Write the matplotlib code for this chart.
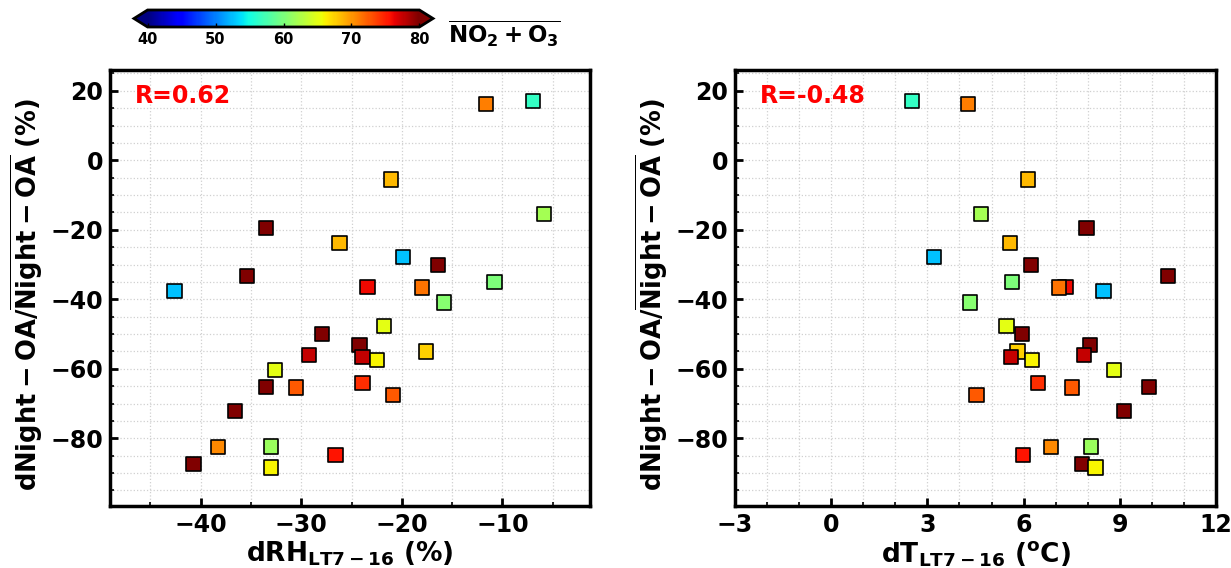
import numpy as np
import matplotlib
matplotlib.use('Agg')
import matplotlib.pyplot as plt
from matplotlib.ticker import MultipleLocator

plt.rcParams['font.family'] = 'DejaVu Sans'
plt.rcParams['font.weight'] = 'bold'
plt.rcParams['axes.labelweight'] = 'bold'
plt.rcParams['mathtext.default'] = 'bf'

# night OA change (%), shared y values
night_oa = [17.1, 16.3, -5.5, -15.5, -19.4, -23.8, -27.9, -30.2, -33.2, -35.0,
            -36.5, -36.6, -37.6, -40.9, -47.7, -49.9, -53.2, -55.0, -56.0, -56.6,
            -57.4, -60.4, -64.2, -65.3, -65.4, -67.6, -72.2, -82.4, -82.6, -84.8,
            -87.4, -88.4]
# dRH LT7-16 (%)
d_rh = [-7.0, -11.6, -21.1, -5.9, -33.5, -26.2, -19.9, -16.4, -35.4, -10.8,
        -23.4, -18.0, -42.6, -15.8, -21.8, -27.9, -24.2, -17.6, -29.2, -23.9,
        -22.5, -32.6, -23.9, -33.5, -30.5, -20.9, -36.6, -33.0, -38.3, -26.6,
        -40.7, -33.0]
# dT LT7-16 (C)
d_t = [2.52, 4.26, 6.14, 4.66, 7.96, 5.57, 3.2, 6.22, 10.51, 5.63,
       7.31, 7.11, 8.49, 4.32, 5.47, 5.96, 8.08, 5.81, 7.89, 5.60,
       6.26, 8.82, 6.46, 9.92, 7.51, 4.53, 9.12, 8.11, 6.86, 5.97,
       7.83, 8.24]
# mean NO2 + O3 (colour)
no2_o3 = [56.5, 71, 68.5, 62, 82, 68.5, 52.5, 82, 82, 60,
          76, 71.5, 52.5, 60.5, 65, 82, 82, 67.5, 77.5, 77.5,
          66, 65, 74.5, 82, 72.5, 72.5, 82, 61.5, 70.5, 75.5,
          82, 66]

r_left = 'R=0.62'
r_right = 'R=-0.48'

fig = plt.figure(figsize=(12.31, 5.68), dpi=100)
ax1 = fig.add_axes([110/1231, 62/568, 480/1231, 436/568])
ax2 = fig.add_axes([735/1231, 62/568, 481/1231, 436/568])

ylab = r'$dNight-OA/\overline{Night-OA}$ (%)'

def style(ax, xminor):
    ax.set_ylim(-99.5, 26)
    ax.yaxis.set_major_locator(MultipleLocator(20))
    ax.yaxis.set_minor_locator(MultipleLocator(5))
    ax.xaxis.set_minor_locator(MultipleLocator(xminor))
    ax.grid(which='both', color='#d0d0d0', linestyle=':', linewidth=0.9)
    ax.set_axisbelow(True)
    for sp in ax.spines.values():
        sp.set_linewidth(2.5)
    ax.tick_params(which='major', direction='in', length=6, width=2,
                   labelsize=17, top=False, right=False, pad=5)
    ax.tick_params(which='minor', direction='in', length=3, width=1.2,
                   top=False, right=False)
    ax.set_ylabel(ylab, fontsize=18.5)
    ax.yaxis.set_label_coords(-0.135, 0.484)

sc = ax1.scatter(d_rh, night_oa, c=no2_o3, cmap='jet', vmin=40, vmax=80,
                 marker='s', s=105, edgecolors='k', linewidths=1.2, zorder=3)
ax1.set_xlim(-49, -1.3)
ax1.xaxis.set_major_locator(MultipleLocator(10))
style(ax1, 5)
ax1.set_xlabel(r'$dRH_{LT7-16}$ (%)', fontsize=19, labelpad=2)
ax1.text(0.052, 0.94, r_left, transform=ax1.transAxes, color='red',
         fontsize=17, fontweight='bold', va='center')

ax2.scatter(d_t, night_oa, c=no2_o3, cmap='jet', vmin=40, vmax=80,
            marker='s', s=105, edgecolors='k', linewidths=1.2, zorder=3)
ax2.set_xlim(-3, 12)
ax2.xaxis.set_major_locator(MultipleLocator(3))
style(ax2, 1)
ax2.set_xlabel(r'$dT_{LT7-16}\ (^oC)$', fontsize=19, labelpad=2)
ax2.text(0.052, 0.94, r_right, transform=ax2.transAxes, color='red',
         fontsize=17, fontweight='bold', va='center')

cax = fig.add_axes([134/1231, 1 - 27/568, 299/1231, 17/568])
cb = fig.colorbar(sc, cax=cax, orientation='horizontal', extend='both')
cb.set_ticks([40, 50, 60, 70, 80])
cb.ax.tick_params(direction='in', length=3, width=1, labelsize=10.5)
cb.outline.set_linewidth(2)
fig.text(448/1231, 1 - 34/568, r'$\overline{NO_2+O_3}$', fontsize=16.5,
         va='center', ha='left')

plt.savefig('out.png', dpi=100)
